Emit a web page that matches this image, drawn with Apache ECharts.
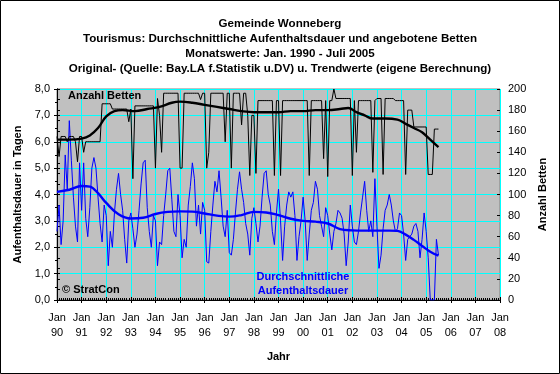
<!DOCTYPE html>
<html>
<head>
<meta charset="utf-8">
<script src="https://cdn.jsdelivr.net/npm/echarts@6/dist/echarts.min.js"></script>
<style>
html,body{margin:0;padding:0;background:#fff;}
#chart{width:560px;height:374px;}
</style>
</head>
<body>
<div id="chart"></div>
<script>
// ---- DATA ----
const titleLines = [
  'Gemeinde Wonneberg',
  'Tourismus: Durchschnittliche Aufenthaltsdauer und angebotene Betten',
  'Monatswerte: Jan. 1990 - Juli 2005',
  'Original- (Quelle: Bay.LA f.Statistik u.DV) u. Trendwerte (eigene Berechnung)'
];
const yearLabels = ['90','91','92','93','94','95','96','97','98','99','00','01','02','03','04','05','06','07','08'];
const monthLabel = 'Jan';

// Durchschnittliche Aufenthaltsdauer (Tage), monthly Jan 1990 - Jul 2005
const stayValues = [
  2.6,3.6,2.1,3.0,5.5,4.2,6.8,5.3,3.9,2.8,2.2,5.2,   // 1990
  3.4,5.2,3.1,2.4,3.5,5.0,5.4,5.0,3.9,2.9,2.2,3.6,   // 1991
  3.2,1.3,2.6,2.0,3.3,4.2,4.8,4.0,3.4,2.3,1.4,3.0,   // 1992
  3.3,2.7,2.0,2.5,3.4,4.4,5.2,5.3,3.5,2.6,2.0,3.2,   // 1993
  3.0,1.3,2.2,2.1,3.2,4.0,4.9,5.0,3.8,2.6,2.4,4.0,   // 1994
  3.2,1.6,2.3,2.0,3.6,4.3,5.2,4.6,2.8,3.6,2.5,3.7,   // 1995
  3.4,1.45,1.4,2.6,3.6,4.5,4.1,4.9,3.9,2.8,2.4,3.4,  // 1996
  1.8,1.7,2.3,3.3,4.2,4.86,4.2,3.7,2.9,2.5,1.7,3.1,  // 1997
  3.5,2.9,2.2,2.8,3.9,4.8,4.9,4.0,3.6,2.6,2.1,3.3,   // 1998
  4.2,3.0,1.5,2.8,3.6,4.1,3.9,4.1,3.2,1.5,2.4,3.0,   // 1999
  3.9,3.0,1.5,2.5,3.4,3.7,4.5,4.2,3.2,2.8,2.4,3.5,   // 2000
  3.2,2.5,1.9,2.6,2.9,3.4,3.3,3.1,2.5,1.3,2.2,3.6,   // 2001
  2.8,2.2,2.1,2.6,3.3,3.9,4.5,3.4,2.6,3.0,2.4,4.6,   // 2002
  2.8,1.2,1.7,2.7,3.4,3.6,4.0,3.6,3.0,2.6,2.7,3.3,   // 2003
  3.2,2.5,1.5,2.3,2.4,2.5,2.8,2.9,2.6,1.6,2.3,3.3,   // 2004
  2.6,1.6,0.0,0.0,0.0,2.3,1.7                        // 2005
];
// Anzahl Betten, monthly Jan 1990 - Jul 2005
const bedValues = [
  155,136,155,155,155,150,155,155,155,150,131,155,   // 1990
  155,140,150,150,150,150,150,150,150,150,186,186,   // 1991
  186,186,186,181,181,181,181,181,181,181,181,169,   // 1992
  181,115,184,184,184,184,184,184,184,184,184,184,   // 1993
  125,191,175,140,196,196,196,196,196,196,196,196,   // 1994
  125,125,196,196,196,196,196,196,196,196,190,196,   // 1995
  196,125,140,196,196,196,196,196,196,196,150,196,   // 1996
  196,125,196,196,196,196,166,196,196,175,118,175,   // 1997
  175,120,189,189,189,189,189,189,189,189,118,189,   // 1998
  189,118,189,189,189,189,189,189,189,189,189,189,   // 1999
  189,189,189,118,189,189,189,189,189,189,134,189,   // 2000
  117,189,189,200,191,191,191,191,191,191,191,191,   // 2001
  118,189,140,189,189,189,189,189,189,189,121,189,   // 2002
  191,191,191,119,191,191,191,191,191,189,189,189,   // 2003
  189,189,119,180,180,180,164,164,164,164,164,164,   // 2004
  164,119,119,119,162,162,162                        // 2005
];
// Trend values (read at given month index, 0 = Jan 1990)
const stayTrendMonths = [0,6,12,16,20,24,30,36,42,48,54,60,66,72,78,84,90,96,102,108,114,120,126,132,138,144,150,156,162,166,170,174,178,182,186];
const stayTrendValues = [4.10,4.18,4.32,4.30,4.05,3.68,3.25,3.09,3.12,3.26,3.34,3.36,3.35,3.28,3.20,3.16,3.22,3.34,3.32,3.22,3.08,3.00,2.97,2.90,2.69,2.64,2.63,2.63,2.63,2.62,2.48,2.28,2.05,1.83,1.68];
const bedTrendMonths = [0,6,12,16,20,24,28,32,38,44,50,56,60,66,72,78,84,90,96,102,108,114,120,126,132,138,142,146,150,154,160,166,170,174,178,182,186];
const bedTrendValues = [152,152,153,156,163,174,179,180,179,181,183,187,188,187,185,183,181,179,178,178,178,179,179,180,180,181,182,178,175,172,172,171,167,163,159,152,145];

// ---- CHART ----
const FONT = 'Liberation Sans, Arial, sans-serif';
const pairs = (arr) => arr.map((v, i) => [i, v]);
const zip = (xs, ys) => xs.map((x, i) => [x, ys[i]]);
const chart = echarts.init(document.getElementById('chart'), null, {renderer: 'canvas'});

const xMax = (yearLabels.length - 1) * 12;
const black = {color: '#000'};
const titleTops = [18, 33, 48, 63];
// helper axis that only draws the inner half of the major ticks
const innerTickX = {
  type: 'value', min: 0, max: xMax, interval: 12, position: 'bottom',
  axisLine: {show: false}, axisLabel: {show: false}, splitLine: {show: false},
  axisTick: {show: true, inside: true, length: 3, lineStyle: black},
  minorTick: {show: true, splitNumber: 12, length: 2, lineStyle: black}
};
const innerTickY = (max, interval, pos) => ({
  type: 'value', min: 0, max: max, interval: interval, position: pos,
  axisLine: {show: false}, axisLabel: {show: false}, splitLine: {show: false},
  axisTick: {show: true, inside: true, length: 3, lineStyle: black}
});

chart.setOption({
  animation: false,
  backgroundColor: '#ffffff',
  textStyle: {fontFamily: FONT},
  title: titleLines.map((t, i) => ({
    text: t, left: 'center', top: titleTops[i], padding: 0,
    textStyle: {fontSize: 11.6, fontWeight: 'bold', color: '#000', fontFamily: FONT}
  })),
  grid: {
    left: 57, right: 60, top: 89, bottom: 74,
    show: true, backgroundColor: '#C0C0C0', borderColor: '#808080', borderWidth: 1
  },
  xAxis: [{
    type: 'value', min: 0, max: xMax, interval: 12, position: 'bottom',
    name: 'Jahr', nameLocation: 'middle', nameGap: 51,
    nameTextStyle: {fontSize: 11, fontWeight: 'bold', color: '#000', fontFamily: FONT},
    axisLine: {lineStyle: {color: '#000', width: 1}},
    axisTick: {length: 3, lineStyle: black},
    splitLine: {show: true, lineStyle: {color: '#00FFFF', width: 1}},
    axisLabel: {
      margin: 10, fontSize: 11, lineHeight: 15, color: '#000', fontFamily: FONT,
      formatter: (v) => monthLabel + '\n' + yearLabels[Math.round(v / 12)]
    }
  }, innerTickX],
  yAxis: [{
    type: 'value', min: 0, max: 8, interval: 1, position: 'left',
    name: 'Aufenthaltsdauer in Tagen', nameLocation: 'middle', nameGap: 27,
    nameTextStyle: {fontSize: 11, fontWeight: 'bold', color: '#000', fontFamily: FONT},
    axisLine: {show: true, lineStyle: black},
    axisTick: {show: true, length: 3, lineStyle: black},
    minorTick: {show: true, splitNumber: 2, length: 2, lineStyle: black},
    splitLine: {show: true, lineStyle: {color: '#00FFFF', width: 1}},
    axisLabel: {margin: 7, fontSize: 11, color: '#000', fontFamily: FONT,
      formatter: (v) => v.toFixed(1).replace('.', ',')}
  }, {
    type: 'value', min: 0, max: 200, interval: 20, position: 'right',
    name: 'Anzahl Betten', nameLocation: 'middle', nameGap: 34,
    nameTextStyle: {fontSize: 11, fontWeight: 'bold', color: '#000', fontFamily: FONT},
    axisLine: {show: true, lineStyle: black},
    axisTick: {show: true, length: 3, lineStyle: black},
    minorTick: {show: true, splitNumber: 2, length: 3, lineStyle: black},
    splitLine: {show: false},
    axisLabel: {margin: 8, fontSize: 11, color: '#000', fontFamily: FONT}
  }, innerTickY(8, 1, 'left'), innerTickY(200, 20, 'right')],
  series: [
    {type: 'line', name: 'Aufenthaltsdauer', xAxisIndex: 0, yAxisIndex: 0, data: pairs(stayValues),
     showSymbol: false, lineStyle: {color: '#0000FF', width: 1}, z: 2},
    {type: 'line', name: 'Trend Aufenthaltsdauer', xAxisIndex: 0, yAxisIndex: 0, data: zip(stayTrendMonths, stayTrendValues),
     smooth: 0.4, showSymbol: false, lineStyle: {color: '#0000FF', width: 2.4}, z: 3},
    {type: 'line', name: 'Betten', xAxisIndex: 0, yAxisIndex: 1, data: pairs(bedValues),
     showSymbol: false, lineStyle: {color: '#000000', width: 1}, z: 4},
    {type: 'line', name: 'Trend Betten', xAxisIndex: 0, yAxisIndex: 1, data: zip(bedTrendMonths, bedTrendValues),
     smooth: 0.4, showSymbol: false, lineStyle: {color: '#000000', width: 2.4}, z: 5}
  ],
  graphic: [
    {type: 'rect', shape: {x: 0.5, y: 0.5, width: 559, height: 373}, silent: true,
     style: {fill: null, stroke: '#000', lineWidth: 1}, z: 100},
    {type: 'text', left: 68, top: 90, z: 100,
     style: {text: 'Anzahl Betten', fontSize: 11, fontWeight: 'bold', fill: '#000', fontFamily: FONT}},
    {type: 'text', left: 62, top: 284, z: 100,
     style: {text: '\u00A9 StratCon', fontSize: 11, fontWeight: 'bold', fill: '#000', fontFamily: FONT}},
    {type: 'text', x: 303, y: 270, z: 100,
     style: {text: 'Durchschnittliche\nAufenthaltsdauer', fontSize: 11, fontWeight: 'bold', fill: '#0000FF',
       lineHeight: 14, align: 'center', fontFamily: FONT}}
  ]
});
</script>
</body>
</html>
